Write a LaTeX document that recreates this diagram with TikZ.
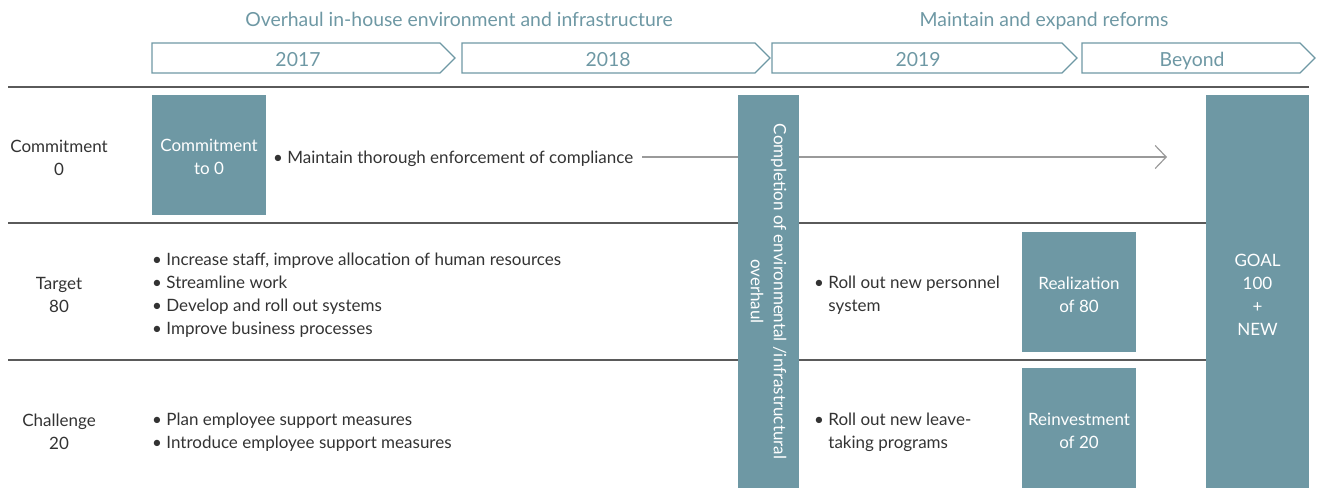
\documentclass[tikz,border=0pt]{standalone}
\usepackage{fontspec}
\setmainfont{Lato}
\usetikzlibrary{arrows.meta}
\definecolor{accent}{HTML}{6E98A4}
\definecolor{ink}{HTML}{333333}
\definecolor{rule}{HTML}{5A5A5A}
\definecolor{flow}{HTML}{9A9A9A}
\begin{document}
\begin{tikzpicture}[x=1pt,y=-1pt,
  block/.style={fill=accent,text=white,align=center,inner sep=0pt,
    font=\fontsize{17}{23}\selectfont},
  body/.style={text=ink,align=left,inner sep=0pt,anchor=west,
    font=\fontsize{17}{23}\selectfont},
  rowlabel/.style={text=ink,align=center,inner sep=0pt,
    font=\fontsize{17}{23}\selectfont},
  phase/.style={draw=accent,line width=1.3pt,line join=miter},
  phasetext/.style={text=accent,inner sep=0pt,anchor=base,font=\fontsize{19.4}{22}\selectfont},
  divider/.style={draw=rule,line width=1.2pt}]
\useasboundingbox (0,0) rectangle (1322,488);

% phase headings
\node[phasetext] (h1) at (459,26) {Overhaul in-house environment and infrastructure};
\node[phasetext] (h2) at (1044,26) {Maintain and expand reforms};

% year chevrons
\draw[phase] (152,43) -- (440,43) -- (455,58) -- (440,73) -- (152,73) -- cycle;
\draw[phase] (462,43) -- (755,43) -- (770,58) -- (755,73) -- (462,73) -- cycle;
\draw[phase] (772,43) -- (1062,43) -- (1077,58) -- (1062,73) -- (772,73) -- cycle;
\draw[phase] (1082,43) -- (1300,43) -- (1315,58) -- (1300,73) -- (1082,73) -- cycle;
\node[phasetext] (y1) at (298,66) {2017};
\node[phasetext] (y2) at (608,66) {2018};
\node[phasetext] (y3) at (918,66) {2019};
\node[phasetext] (y4) at (1192,66) {Beyond};

% row dividers
\draw[divider] (8,87) -- (1309,87);
\draw[divider] (8,223) -- (1206,223);
\draw[divider] (8,360) -- (1206,360);

% row labels
\node[rowlabel] (r1) at (59,157.5) {Commitment\\0};
\node[rowlabel] (r2) at (59,294.5) {Target\\80};
\node[rowlabel] (r3) at (59,431.5) {Challenge\\20};

% commitment row
\node[block,minimum width=114pt,minimum height=120pt] (c0) at (209,155) {};
\node[block] (c0text) at (209,157) {Commitment\\to 0};
\node[body] (m1) at (273,158.5) {\textbullet\ Maintain thorough enforcement of compliance};
\coordinate (mend) at (1167,157);
\draw[flow,line width=1.2pt,-{Straight Barb[length=11pt,width=23pt,line width=1.2pt]}]
  ([xshift=9pt]m1.east |- mend) -- (mend);

% target row
\node[body] (t1) at (152,295) {\textbullet\ Increase staff, improve allocation of human resources\\
  \textbullet\ Streamline work\\
  \textbullet\ Develop and roll out systems\\
  \textbullet\ Improve business processes};
\node[body] (t2) at (814,295) {\textbullet\ Roll out new personnel\\\phantom{\textbullet\ }system};
\node[block,minimum width=114pt,minimum height=120pt] (r80) at (1079,292) {};
\node[block] (r80text) at (1079,294.5) {Realization\\of 80};

% challenge row
\node[body] (s1) at (152,432) {\textbullet\ Plan employee support measures\\
  \textbullet\ Introduce employee support measures};
\node[body] (s2) at (814,432) {\textbullet\ Roll out new leave-\\\phantom{\textbullet\ }taking programs};
\node[block,minimum width=114pt,minimum height=120pt] (r20) at (1079,428) {};
\node[block] (r20text) at (1079,431) {Reinvestment\\of 20};

% milestone column and goal
\node[block,rotate=-90,minimum width=393pt,minimum height=61pt] (done) at (768.5,291.5)
  {Completion of environmental /infrastructural\\overhaul};
\node[block,minimum width=103pt,minimum height=393pt] (goal) at (1257.5,291.5) {};
\node[block] (goaltext) at (1257.5,294.5) {GOAL\\100\\+\\NEW};
\end{tikzpicture}
\end{document}
